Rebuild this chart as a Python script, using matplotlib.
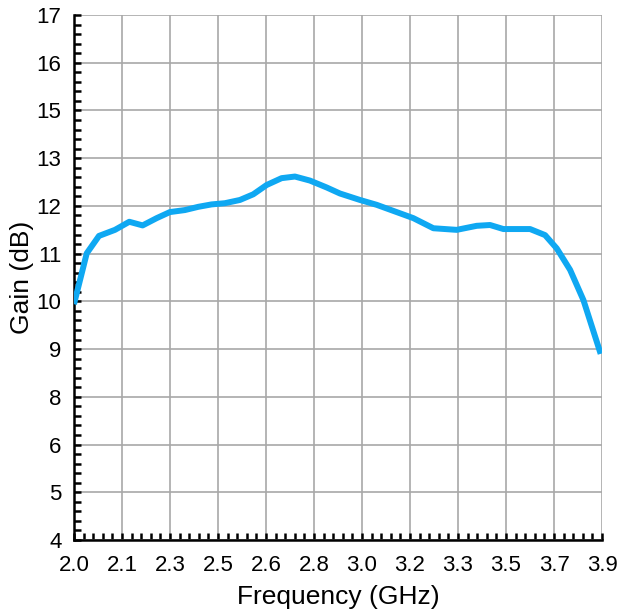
import numpy as np
import matplotlib.pyplot as plt
from matplotlib.ticker import AutoMinorLocator

plt.rcParams['font.family'] = ['Liberation Sans', 'DejaVu Sans']

# measured gain curve
freq_ghz = [2.0, 2.046, 2.09, 2.1475, 2.199, 2.247, 2.2975, 2.345, 2.399, 2.447,
            2.495, 2.543, 2.597, 2.645, 2.693, 2.747, 2.795, 2.849, 2.909, 2.957,
            3.029, 3.089, 3.161, 3.221, 3.293, 3.377, 3.449, 3.497, 3.545, 3.641,
            3.695, 3.737, 3.785, 3.833, 3.895]
gain_db = [9.84, 11.1, 11.53, 11.68, 11.88, 11.79, 11.97, 12.12, 12.17, 12.25,
           12.31, 12.34, 12.42, 12.56, 12.79, 12.96, 13.0, 12.90, 12.73, 12.58,
           12.42, 12.30, 12.12, 11.97, 11.72, 11.68, 11.78, 11.80, 11.70, 11.70,
           11.55, 11.22, 10.69, 9.94, 8.61]

# axis labels as printed on the original chart
x_tick_labels = ['2.0', '2.1', '2.3', '2.5', '2.6', '2.8', '3.0', '3.2', '3.3', '3.5', '3.7', '3.9']
y_tick_labels = ['4', '5', '6', '8', '9', '10', '11', '12', '13', '15', '16', '17']

x_min, x_max = 2.0, 3.9
y_min, y_max = 4, 17

fig = plt.figure(figsize=(6.18, 6.12), dpi=100)
ax = fig.add_axes([0.1197, 0.1176, 0.8545, 0.8579])

ax.plot(freq_ghz, gain_db, color='#0fa8f2', lw=4.3, solid_capstyle='butt',
        solid_joinstyle='round', zorder=3)

ax.set_xlim(x_min, x_max)
ax.set_ylim(y_min, y_max)
ax.set_xticks(np.linspace(x_min, x_max, len(x_tick_labels)))
ax.set_xticklabels(x_tick_labels)
ax.set_yticks(np.linspace(y_min, y_max, len(y_tick_labels)))
ax.set_yticklabels(y_tick_labels)
ax.xaxis.set_minor_locator(AutoMinorLocator(5))
ax.yaxis.set_minor_locator(AutoMinorLocator(5))

ax.grid(True, which='major', color='#a8a8a8', lw=1.2)
ax.set_axisbelow(True)
ax.tick_params(which='both', direction='in', length=5, width=1.8, color='black',
               labelsize=16, top=False, right=False)
ax.tick_params(axis='x', pad=11)
ax.tick_params(axis='y', pad=9)

for side in ['top', 'right']:
    ax.spines[side].set_visible(False)
for side in ['left', 'bottom']:
    ax.spines[side].set_color('black')
    ax.spines[side].set_linewidth(1.8)

ax.set_xlabel('Frequency (GHz)', fontsize=19, labelpad=6)
ax.set_ylabel('Gain (dB)', fontsize=19, labelpad=2)

fig.savefig('out.png', dpi=100)
